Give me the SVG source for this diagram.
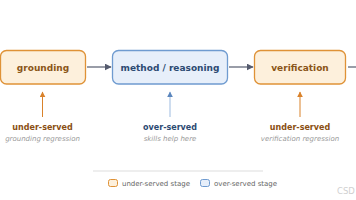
<svg xmlns="http://www.w3.org/2000/svg" width="356" height="200" viewBox="0 0 356 200">
<defs>
<style>
.box-u{fill:#fdf0dc;stroke:#df9237;stroke-width:1.3}
.box-o{fill:#e7effa;stroke:#6f9bd0;stroke-width:1.3}
.t{font-family:"DejaVu Sans",Verdana,sans-serif;font-weight:bold;font-size:9px;text-anchor:middle}
.tu{fill:#8a5517}
.to{fill:#2c4a72}
.lab{font-family:"DejaVu Sans",Verdana,sans-serif;font-weight:bold;font-size:8px;text-anchor:middle}
.sub{font-family:"DejaVu Sans",Verdana,sans-serif;font-style:italic;font-size:7px;fill:#999999;text-anchor:middle}
.leg{font-family:"DejaVu Sans",Verdana,sans-serif;font-size:7px;fill:#666}
.flow{stroke:#555b6e;stroke-width:1.2;fill:none}
</style>
<marker id="ah" viewBox="0 0 10 10" refX="9" refY="5" markerWidth="7" markerHeight="7" markerUnits="userSpaceOnUse" orient="auto"><path d="M0,0 L10,5 L0,10 z" fill="#555b6e"/></marker>
<marker id="ahu" viewBox="0 0 10 10" refX="9" refY="5" markerWidth="6" markerHeight="6" markerUnits="userSpaceOnUse" orient="auto"><path d="M0,0 L10,5 L0,10 z" fill="#d9822b"/></marker>
<marker id="aho" viewBox="0 0 10 10" refX="9" refY="5" markerWidth="6" markerHeight="6" markerUnits="userSpaceOnUse" orient="auto"><path d="M0,0 L10,5 L0,10 z" fill="#5b86bd"/></marker>
</defs>
<rect width="356" height="200" fill="#ffffff"/>
<g id="grounding">
<rect class="box-u" x="0.5" y="50.5" width="85" height="33.5" rx="6"/>
<text class="t tu" x="43" y="70.5">grounding</text>
</g>
<g id="method">
<rect class="box-o" x="112.5" y="50.5" width="115" height="33.5" rx="6"/>
<text class="t to" x="170" y="70.5">method / reasoning</text>
</g>
<g id="verification">
<rect class="box-u" x="254.5" y="50.5" width="91" height="33.5" rx="6"/>
<text class="t tu" x="300" y="70.5">verification</text>
</g>
<g id="connectors">
<line class="flow" x1="87" y1="67" x2="111" y2="67" marker-end="url(#ah)"/>
<line class="flow" x1="229" y1="67" x2="253" y2="67" marker-end="url(#ah)"/>
<line class="flow" x1="348" y1="67" x2="358" y2="67"/>
<line x1="42.5" y1="117" x2="42.5" y2="92" stroke="#d9822b" stroke-width="1" marker-end="url(#ahu)"/>
<line x1="170" y1="117" x2="170" y2="92" stroke="#9dbbe0" stroke-width="1" marker-end="url(#aho)"/>
<line x1="300" y1="117" x2="300" y2="92" stroke="#d9822b" stroke-width="1" marker-end="url(#ahu)"/>
</g>
<g id="annotations">
<text class="lab" x="42.5" y="130" fill="#8a4f12">under-served</text>
<text class="sub" x="42.5" y="141">grounding regression</text>
<text class="lab" x="170" y="130" fill="#2c4a72">over-served</text>
<text class="sub" x="170" y="141">skills help here</text>
<text class="lab" x="300" y="130" fill="#8a4f12">under-served</text>
<text class="sub" x="300" y="141">verification regression</text>
</g>
<g id="legend">
<line x1="93" y1="171" x2="263" y2="171" stroke="#dddddd" stroke-width="1"/>
<rect x="108.5" y="179.5" width="9" height="7" rx="2" fill="#fdf0dc" stroke="#df9237" stroke-width="1"/>
<text class="leg" x="122" y="185.5">under-served stage</text>
<rect x="200.5" y="179.5" width="9" height="7" rx="2" fill="#e7effa" stroke="#6f9bd0" stroke-width="1"/>
<text class="leg" x="214" y="185.5">over-served stage</text>
<text x="337" y="194" font-family="DejaVu Sans,Verdana,sans-serif" font-size="8.5px" fill="#d0d0d0">CSD</text>
</g>
</svg>
